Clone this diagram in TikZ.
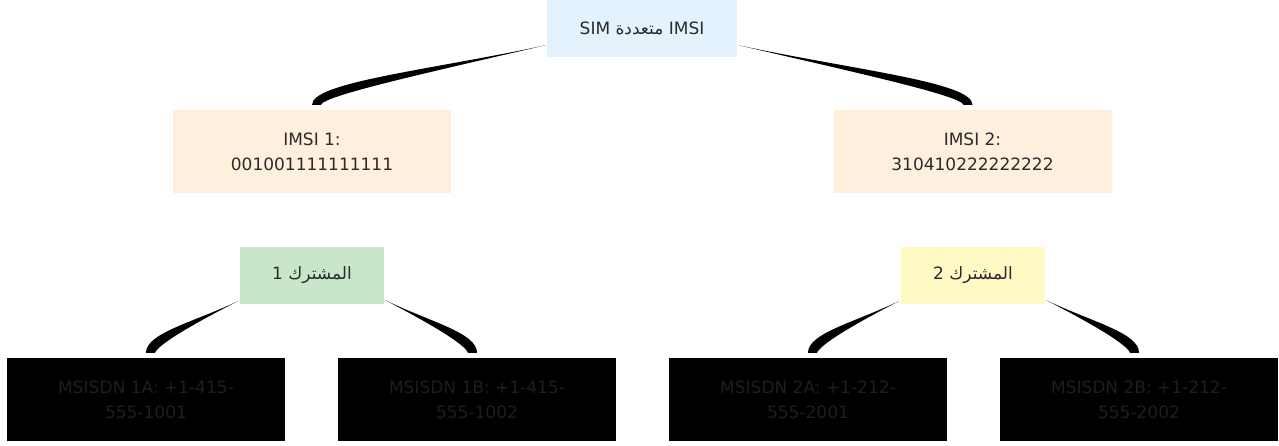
\documentclass[tikz,border=0pt]{standalone}
\usepackage{fontspec}
\setmainfont{DejaVu Sans}
\newfontfamily\arabicfont[Script=Arabic]{DejaVu Sans}
\TeXXeTstate=1
\usetikzlibrary{calc}
\definecolor{topblue}{HTML}{E3F2FD}
\definecolor{imsiorange}{HTML}{FFF0DD}
\definecolor{subgreen}{HTML}{C8E6C9}
\definecolor{subyellow}{HTML}{FFF9C4}
\definecolor{txt}{HTML}{2B2B2B}
\definecolor{darktxt}{HTML}{1E1E1E}
\newcommand\artext[1]{\hbox{\arabicfont\beginR #1\endR}}
\tikzset{
  box/.style={draw=none, inner sep=0pt, align=center, text=txt,
    font=\fontsize{17}{25}\selectfont},
  topbox/.style={box, fill=topblue, minimum width=190pt, minimum height=57pt},
  imsibox/.style={box, fill=imsiorange, minimum width=278pt, minimum height=83pt},
  subbox/.style={box, minimum width=144pt, minimum height=57pt},
  msbox/.style={box, fill=black, text=darktxt, minimum width=278pt, minimum height=83pt},
}
% tapered connector: #1 start point, #2 end point, #3 = +1 if wide end extends right, -1 left
\newcommand\taper[3]{%
  \fill[black] let \p1=(#1), \p2=(#2) in
    (\p1) .. controls ({\x1+0.5*(\x2-\x1)},{\y1+0.42*(\y2-\y1)})
               and (\x2,{\y1+0.62*(\y2-\y1)}) .. (\p2)
    -- ({\x2+#3*9pt},\y2)
    .. controls ({\x2+#3*12pt},{\y2+0.15*(\y1-\y2)})
               and ({\x2+0.45*(\x1-\x2)},{\y2+0.5*(\y1-\y2)}) .. (\p1) -- cycle;}
\begin{document}
\begin{tikzpicture}[x=1pt,y=-1pt]
\useasboundingbox (0,0) rectangle (1279,446);
\node[topbox] (top) at (642,28.5) {\hbox{SIM }\artext{متعددة}\hbox{ IMSI}};
\node[imsibox] (i1) at (312,151.5) {IMSI 1:\\001001111111111};
\node[imsibox] (i2) at (972.5,151.5) {IMSI 2:\\310410222222222};
\node[subbox, fill=subgreen] (s1) at (312,275.5) {\hbox{1 }\artext{المشترك}};
\node[subbox, fill=subyellow] (s2) at (973,275.5) {\hbox{2 }\artext{المشترك}};
\node[msbox] (m1a) at (146,399.5) {MSISDN 1A: +1-415-\\555-1001};
\node[msbox] (m1b) at (477,399.5) {MSISDN 1B: +1-415-\\555-1002};
\node[msbox] (m2a) at (808,399.5) {MSISDN 2A: +1-212-\\555-2001};
\node[msbox] (m2b) at (1139,399.5) {MSISDN 2B: +1-212-\\555-2002};
\coordinate (tl) at ($(top.south west)+(-1,-12)$);
\coordinate (tr) at ($(top.south east)+(1,-12)$);
\coordinate (s1l) at ($(s1.south west)+(-2,-3)$);
\coordinate (s1r) at ($(s1.south east)+(1,-4)$);
\coordinate (s2l) at ($(s2.south west)+(-2,-3)$);
\coordinate (s2r) at ($(s2.south east)+(1,-4)$);
\taper{tl}{$(i1.north)+(0,-5)$}{1}
\taper{tr}{$(i2.north)+(0,-5)$}{-1}
\taper{s1l}{$(m1a.north)+(0,-5)$}{1}
\taper{s1r}{$(m1b.north)+(0,-5)$}{-1}
\taper{s2l}{$(m2a.north)+(0,-5)$}{1}
\taper{s2r}{$(m2b.north)+(0,-5)$}{-1}
\end{tikzpicture}
\end{document}
